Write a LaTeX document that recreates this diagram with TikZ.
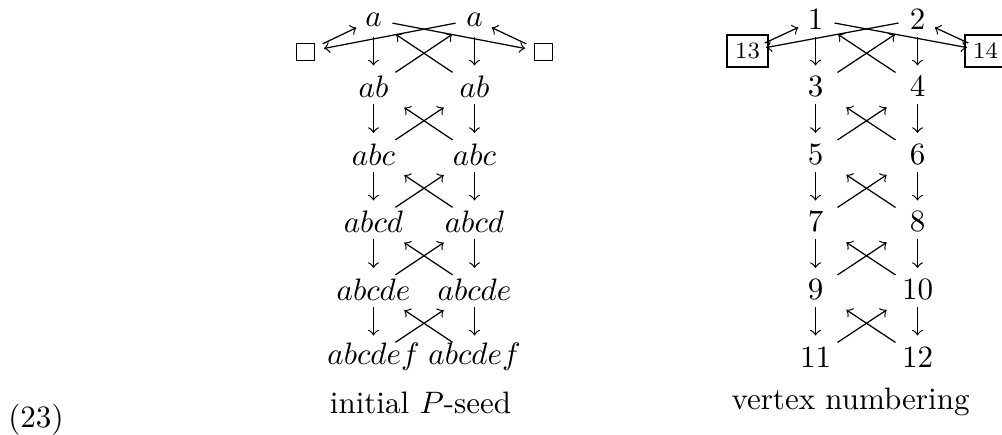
\documentclass[tikz,border=0pt]{standalone}
\begin{document}
\begin{tikzpicture}[x=0.3224pt,y=-0.3224pt,>=to,line width=0.4pt,
  ent/.style={inner sep=0pt},
  vdown/.style={->,shorten <=17*0.3224pt,shorten >=21.5*0.3224pt},
  crossup/.style={->,shorten <=26.4*0.3224pt,shorten >=37*0.3224pt},
  crosstop/.style={->,shorten <=26.4*0.3224pt,shorten >=27*0.3224pt},
  longtop/.style={->,shorten <=19.3*0.3224pt,shorten >=18.8*0.3224pt},
  shorttop/.style={->,shorten <=19*0.3224pt,shorten >=19*0.3224pt},
  sqbox/.style={draw,minimum size=17.5*0.3224pt,inner sep=0pt},
  numbox/.style={draw,inner sep=0pt,minimum width=41*0.3224pt,minimum height=32*0.3224pt,font=\fontsize{7.5}{9}\selectfont}]
\useasboundingbox (0,0) rectangle (1002,434);
% left diagram
\node[ent] (la0) at (373.5,19.5) {$a$};
\node[ent] (lb0) at (474.5,19.5) {$a$};
\node[ent] (la1) at (373.5,87) {$ab$};
\node[ent] (lb1) at (474.5,87) {$ab$};
\node[ent] (la2) at (373.5,154.5) {$abc$};
\node[ent] (lb2) at (474.5,154.5) {$abc$};
\node[ent] (la3) at (373.5,222) {$abcd$};
\node[ent] (lb3) at (474.5,222) {$abcd$};
\node[ent] (la4) at (373.5,289.5) {$abcde$};
\node[ent] (lb4) at (474.5,289.5) {$abcde$};
\node[ent] (la5) at (373.5,357) {$abcdef$};
\node[ent] (lb5) at (474.5,357) {$abcdef$};
\node[sqbox] (lsq) at (305.5,52) {};
\node[sqbox] (rsq) at (543.5,52) {};
\node[anchor=base] (lcap) at (420.5,413) {initial $P$-seed};
% right diagram
\node[ent] (ra0) at (815.5,19.5) {$1$};
\node[ent] (rb0) at (917.5,19.5) {$2$};
\node[ent] (ra1) at (815.5,87) {$3$};
\node[ent] (rb1) at (917.5,87) {$4$};
\node[ent] (ra2) at (815.5,154.5) {$5$};
\node[ent] (rb2) at (917.5,154.5) {$6$};
\node[ent] (ra3) at (815.5,222) {$7$};
\node[ent] (rb3) at (917.5,222) {$8$};
\node[ent] (ra4) at (815.5,289.5) {$9$};
\node[ent] (rb4) at (917.5,289.5) {$10$};
\node[ent] (ra5) at (815.5,357) {$11$};
\node[ent] (rb5) at (917.5,357) {$12$};
\node[numbox] (r13) at (747.5,51) {13};
\node[numbox] (r14) at (985.5,51) {14};
\node[anchor=base] (rcap) at (850.5,409) {vertex numbering};
\node[anchor=base] (eqn) at (36,427) {(23)};
% connectors
\foreach \i/\j in {0/1,1/2,2/3,3/4,4/5}{
  \draw[vdown] (la\i.center) -- (la\j.center);
  \draw[vdown] (lb\i.center) -- (lb\j.center);
  \draw[vdown] (ra\i.center) -- (ra\j.center);
  \draw[vdown] (rb\i.center) -- (rb\j.center);
}
\foreach \i/\j in {1/2,2/3,3/4,4/5}{
  \draw[crossup] (la\j.center) -- (lb\i.center);
  \draw[crossup] (lb\j.center) -- (la\i.center);
  \draw[crossup] (ra\j.center) -- (rb\i.center);
  \draw[crossup] (rb\j.center) -- (ra\i.center);
}
\draw[crosstop] (la1.center) -- (lb0.center);
\draw[crosstop] (lb1.center) -- (la0.center);
\draw[crosstop] (ra1.center) -- (rb0.center);
\draw[crosstop] (rb1.center) -- (ra0.center);
\draw[longtop] (la0.center) -- (rsq.center);
\draw[longtop] (lb0.center) -- (lsq.center);
\draw[longtop] (ra0.center) -- (r14.center);
\draw[longtop] (rb0.center) -- (r13.center);
\draw[shorttop] (lsq.center) -- (la0.center);
\draw[shorttop] (rsq.center) -- (lb0.center);
\draw[shorttop] (r13.center) -- (ra0.center);
\draw[shorttop] (r14.center) -- (rb0.center);
\end{tikzpicture}
\end{document}
